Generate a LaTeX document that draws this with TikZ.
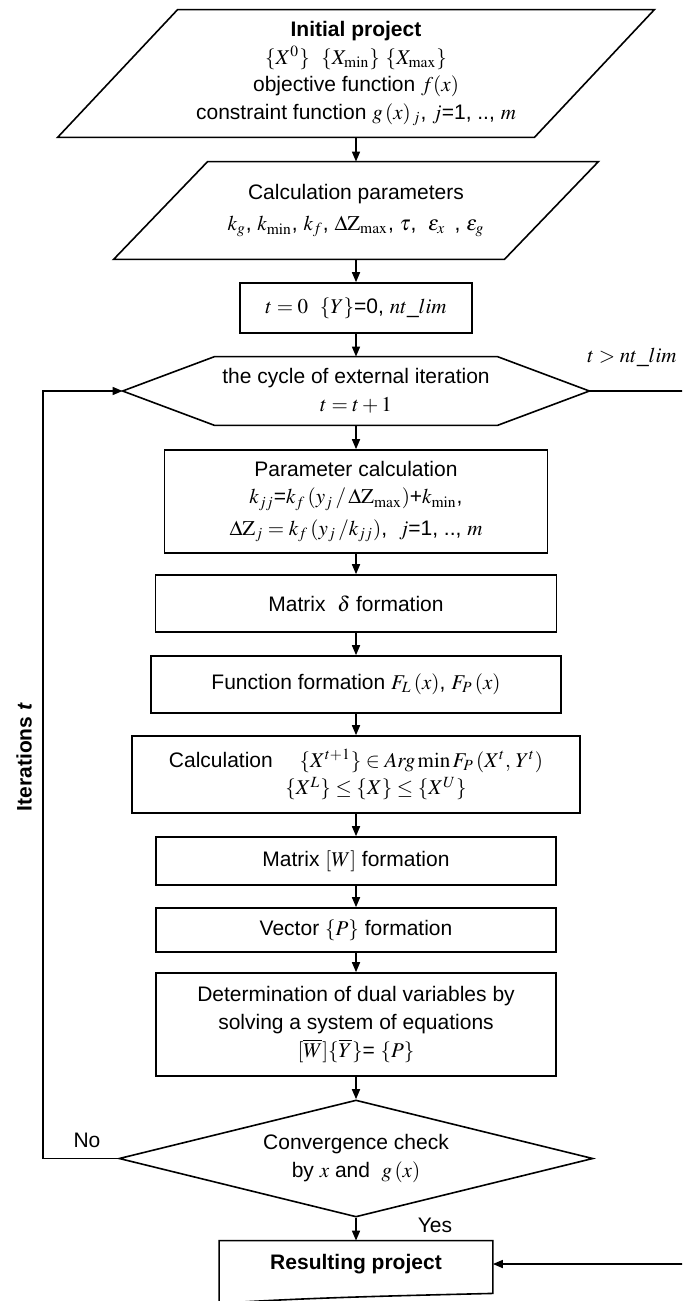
\documentclass[tikz,border=0pt]{standalone}
\usepackage{mathptmx}
\usepackage[no-math]{fontspec}
\setmainfont{Liberation Sans}
\usepackage{tikz}
\usetikzlibrary{arrows.meta,shapes.geometric}

\begin{document}
\begin{tikzpicture}[x=0.5pt,y=-0.5pt,
  every node/.style={font=\fontsize{10.5}{13.8}\selectfont},
  blk/.style={draw,line width=0.8pt,align=center,inner sep=0pt},
  io/.style={align=center,inner sep=0pt},
  arr/.style={-{Triangle[length=5pt,width=4pt]},line width=0.8pt}]
  \clip (0,0) rectangle (682,1301);
  \node[io,minimum width=238pt,minimum height=63.5pt] (init) at (356,73.5) {\textbf{Initial project}\\ $\{X^0\}$\ \ $\{X_{\min}\}$ $\{X_{\max}\}$\\ objective function $f(x)$\\ constraint function $g\,(x)_{\,j}$, $j$=1, .., $m$};
  \node[io,minimum width=195pt,minimum height=48.5pt] (calcpar) at (356,210.5) {Calculation parameters\\[2pt] $k_g$, $k_{\min}$, $k_f$, $\Delta\mathrm{Z}_{\max}$, $\tau$,\ \ $\varepsilon_x$\,\ ,\ $\varepsilon_g$};
  \node[blk,minimum width=116pt,minimum height=25pt] (start) at (356,308) {$t = 0$\ \ $\{Y\}$=0, $nt\_lim$};
  \node[io,minimum width=233pt,minimum height=34pt] (hex) at (356,391) {the cycle of external iteration\\ $t = t + 1$};
  \node[blk,minimum width=191.5pt,minimum height=51.5pt] (param) at (356,501.5) {Parameter calculation\\ $k_{jj}$=$k_f\,(y_j\,/\,\Delta\mathrm{Z}_{\max})$+$k_{\min}$,\\[2pt] $\Delta\mathrm{Z}_j = k_f\,(y_j\,/k_{jj})$,\ \ $j$=1, .., $m$};
  \node[blk,minimum width=200.5pt,minimum height=28.5pt] (mdelta) at (356,603.5) {Matrix\ \ $\delta$\ formation};
  \node[blk,minimum width=205pt,minimum height=28.5pt] (func) at (356,684.5) {Function formation $F_L\,(x)$, $F_P\,(x)$};
  \node[blk,minimum width=224pt,minimum height=38.5pt] (calc) at (356,774.5) {Calculation\quad\ $\{X^{t+1}\}\in\mathit{Arg}\min F_P\,(X^t,\,Y^t)$\\ \hspace*{20pt}$\{X^L\}\leq\{X\}\leq\{X^U\}$};
  \node[blk,minimum width=200pt,minimum height=24pt] (matw) at (356,861) {Matrix $[W]$ formation};
  \node[blk,minimum width=200pt,minimum height=22pt] (vecp) at (356,930) {Vector $\{P\}$ formation};
  \node[blk,minimum width=200pt,minimum height=51.5pt] (dual) at (356,1024.5) {Determination of dual variables by\\ solving a system of equations\\ $[\overline{W}]\{\overline{Y}\}$= $\{P\}$};
  \node[diamond,draw,line width=0.8pt,align=center,inner sep=0pt,aspect=4,minimum width=237pt,minimum height=58.5pt] (conv) at (356,1158.5) {Convergence check\\ by $x$ and\ \ $g\,(x)$};
  \node[io,minimum width=136.5pt,minimum height=23pt] (result) at (356,1264) {\textbf{Resulting project}};
  \node (tlim) at (632,357) {$t > nt\_lim$};
  \node (no) at (87,1140) {No};
  \node (yes) at (435,1225) {Yes};
  \node[rotate=90] (iter) at (24,757) {\textbf{Iterations \textit{t}}};
  \draw[line width=0.8pt] ([xshift=30pt]init.north west) -- ([xshift=30pt]init.north east) -- ([xshift=-30pt]init.south east) -- ([xshift=-30pt]init.south west) -- cycle;
  \draw[line width=0.8pt] ([xshift=23.5pt]calcpar.north west) -- ([xshift=23.5pt]calcpar.north east) -- ([xshift=-23.5pt]calcpar.south east) -- ([xshift=-23.5pt]calcpar.south west) -- cycle;
  \draw[line width=0.8pt] (hex.west) -- ([xshift=46pt]hex.north west) -- ([xshift=-46pt]hex.north east) -- (hex.east) -- ([xshift=-46pt]hex.south east) -- ([xshift=46pt]hex.south west) -- cycle;
  \draw[line width=0.8pt] ([yshift=-8pt]result.south west) -- (result.north west) -- (result.north east) -- ([yshift=-3pt]result.south east) .. controls +(-40pt,-1pt) and +(45pt,3pt) .. ([yshift=-8pt]result.south west);
  \draw[arr] (init) -- (calcpar);
  \draw[arr] (calcpar) -- (start);
  \draw[arr] (start) -- (hex);
  \draw[arr] (hex) -- (param);
  \draw[arr] (param) -- (mdelta);
  \draw[arr] (mdelta) -- (func);
  \draw[arr] (func) -- (calc);
  \draw[arr] (calc) -- (matw);
  \draw[arr] (matw) -- (vecp);
  \draw[arr] (vecp) -- (dual);
  \draw[arr] (dual) -- (conv);
  \draw[arr] (conv) -- (result);
  \coordinate (rgt) at (690,391);
  \coordinate (lft) at (43,1158.5);
  \draw[arr] (hex.east) -- (rgt) |- (result.east);
  \draw[arr] (conv.west) -- (lft) |- (hex.west);
\end{tikzpicture}
\end{document}
